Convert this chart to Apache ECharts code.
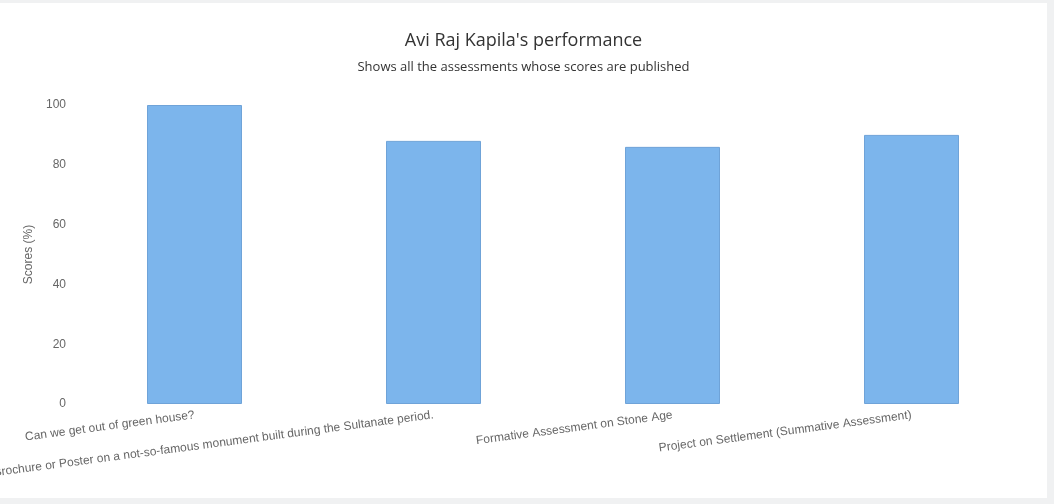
<!DOCTYPE html>
<html>
<head>
<meta charset="utf-8">
<script src="https://cdn.jsdelivr.net/npm/echarts@6/dist/echarts.min.js"></script>
<style>
html, body { margin: 0; padding: 0; background: #f0f1f2; width: 1054px; height: 504px; overflow: hidden; }
#main { position: absolute; left: 0; top: 3px; width: 1047px; height: 495px; background: #fff; }
</style>
</head>
<body>
<div id="main"></div>
<script>
var chart = echarts.init(document.getElementById('main'));

var assessments = [
	'Can we get out of green house?',
	'Brochure or Poster on a not-so-famous monument built during the Sultanate period.',
	'Formative Assessment on Stone Age',
	'Project on Settlement (Summative Assessment)'
];
var scores = [100, 88, 86, 90];

var options = {
	backgroundColor: '#fff',
	title: {
		text: "Avi Raj Kapila's performance",
		subtext: 'Shows all the assessments whose scores are published',
		left: 'center',
		top: 24,
		itemGap: 11,
		textStyle: { fontFamily: 'Open Sans', fontSize: 18, fontWeight: 'normal', color: '#333' },
		subtextStyle: { fontFamily: 'Open Sans', fontSize: 13, color: '#333' }
	},
	grid: { left: 75, right: 16, top: 102, bottom: 94, outerBoundsMode: 'none', containLabel: false },
	xAxis: {
		type: 'category',
		data: assessments,
		axisLine: { show: false },
		axisTick: { show: false },
		axisLabel: {
			interval: 0,
			rotate: 7.5,
			margin: 11,
			hideOverlap: false,
			color: '#666',
			fontFamily: 'Liberation Sans',
			fontSize: 12
		}
	},
	yAxis: {
		type: 'value',
		min: 0,
		max: 100,
		interval: 20,
		name: 'Scores (%)',
		nameLocation: 'middle',
		nameGap: 40,
		nameTextStyle: { color: '#666', fontFamily: 'Liberation Sans', fontSize: 12 },
		axisLine: { show: false },
		axisTick: { show: false },
		splitLine: { show: false },
		axisLabel: { color: '#666', fontFamily: 'Liberation Sans', fontSize: 12, margin: 9 }
	},
	series: [{
		type: 'bar',
		data: scores,
		barWidth: 95,
		itemStyle: { color: '#7cb5ec', borderColor: '#6fa3d8', borderWidth: 1 }
	}]
};
chart.setOption(options);
</script>
</body>
</html>
